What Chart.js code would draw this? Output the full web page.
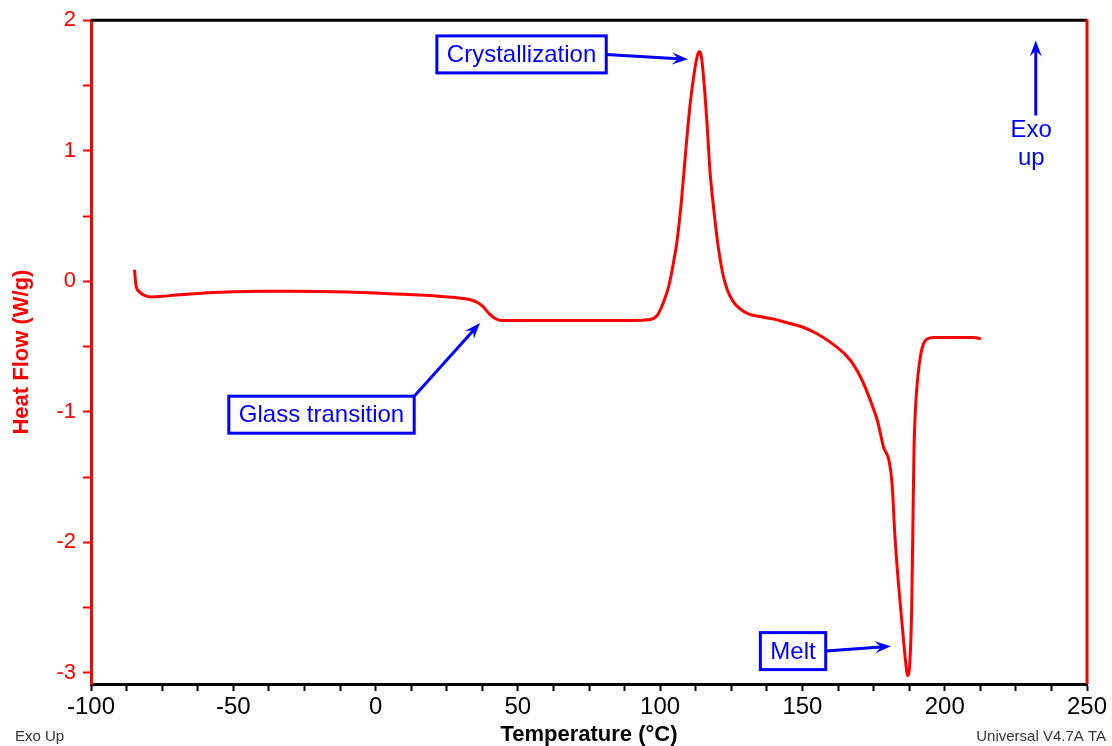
<!DOCTYPE html>
<html>
<head>
<meta charset="utf-8">
<title>DSC Heat Flow</title>
<script src="https://cdn.jsdelivr.net/npm/chart.js@4/dist/chart.umd.min.js"></script>
<style>
    html, body { margin: 0; padding: 0; background: #ffffff; }
    #wrap { width: 1112px; height: 746px; position: relative; }
</style>
</head>
<body>
<div id="wrap"><canvas id="dsc-chart"></canvas></div>
<script>
// DSC scan: temperature (°C) vs heat flow (W/g), exo up
const temperature = [
    -84.7, -84.5, -84.2, -83.0, -81.0, -78.5, -75, -70, -60, -50,
    -40, -30, -20, -10, 0, 10, 20, 28, 33, 36,
    38, 40, 42, 44, 50, 60, 70, 80, 90, 96,
    99, 101, 103, 104.5, 106, 107.5, 109, 110.5, 112, 113,
    113.7, 114.5, 115.5, 116.5, 117.5, 119, 120.5, 122, 123.5, 125.5,
    128, 131, 135, 140, 145, 150, 155, 160, 165, 168,
    171, 174, 176.5, 178.5, 180.5, 181.5, 182.5, 183.5, 185, 186.2,
    187, 187.8, 188.4, 188.8, 189.2, 189.8, 190.6, 191.5, 192.5, 194,
    196, 200, 205, 210, 212.7
];
const heatFlow = [
    0.09, 0.03, -0.03, -0.08, -0.11, -0.12, -0.115, -0.105, -0.09, -0.08,
    -0.077, -0.077, -0.078, -0.083, -0.09, -0.10, -0.11, -0.125, -0.14, -0.165,
    -0.20, -0.25, -0.285, -0.30, -0.30, -0.30, -0.30, -0.30, -0.30, -0.295,
    -0.26, -0.17, -0.04, 0.12, 0.32, 0.62, 1.0, 1.35, 1.6, 1.72,
    1.76, 1.72, 1.5, 1.2, 0.85, 0.52, 0.25, 0.06, -0.06, -0.15,
    -0.21, -0.25, -0.27, -0.29, -0.32, -0.35, -0.40, -0.47, -0.56, -0.64,
    -0.76, -0.92, -1.08, -1.27, -1.38, -1.55, -1.95, -2.25, -2.62, -2.9,
    -3.02, -2.9, -2.5, -1.9, -1.3, -0.95, -0.72, -0.57, -0.48, -0.44,
    -0.43, -0.43, -0.43, -0.43, -0.44
];

const xMin = -100, xMax = 250, xStep = 12.5, xLabelStep = 50;
const yMin = -3.085, yMax = 2;
const yTickValues = [-3, -2.5, -2, -1.5, -1, -0.5, 0, 0.5, 1, 1.5, 2];

// callouts: box centre and arrow tip in data units
const callouts = [
    { text: 'Crystallization', box: [51.3, 1.738], from: 'right', tip: [109.8, 1.70] },
    { text: 'Glass transition', box: [-19.0, -1.022], from: 'topright', tip: [36.7, -0.32] },
    { text: 'Melt', box: [146.7, -2.833], from: 'right', tip: [181.1, -2.795] },
];
const exoArrow = { base: [232.0, 1.27], tip: [232.0, 1.845], lines: ['Exo', 'up'], textX: 230.4, textY: [1.157, 0.943] };

const FONT = 'Arial, "Liberation Sans", sans-serif';
const BLUE = '#0000ff';
const RED = '#ff0000';

function arrow(ctx, x1, y1, x2, y2) {
    const ang = Math.atan2(y2 - y1, x2 - x1);
    const len = 16, half = 6, notch = 10;
    const c = Math.cos(ang), s = Math.sin(ang);
    ctx.beginPath();
    ctx.moveTo(x1, y1);
    ctx.lineTo(x2 - c * notch, y2 - s * notch);
    ctx.stroke();
    ctx.beginPath();
    ctx.moveTo(x2, y2);
    ctx.lineTo(x2 - c * len - s * half, y2 - s * len + c * half);
    ctx.lineTo(x2 - c * notch, y2 - s * notch);
    ctx.lineTo(x2 - c * len + s * half, y2 - s * len - c * half);
    ctx.closePath();
    ctx.fill();
}

const frameAndNotes = {
    id: 'frameAndNotes',
    afterDraw(chart) {
        const { ctx, chartArea: a, scales: { x, y } } = chart;
        ctx.save();

        // top and right frame
        ctx.lineWidth = 3;
        ctx.strokeStyle = '#000000';
        ctx.beginPath();
        ctx.moveTo(a.left, a.top);
        ctx.lineTo(a.right, a.top);
        ctx.stroke();
        ctx.strokeStyle = RED;
        ctx.beginPath();
        ctx.moveTo(a.right, a.top - 1);
        ctx.lineTo(a.right, a.bottom);
        ctx.stroke();

        // boxed callouts with arrows
        ctx.font = '24px ' + FONT;
        ctx.textAlign = 'center';
        ctx.textBaseline = 'middle';
        callouts.forEach(c => {
            const cx = x.getPixelForValue(c.box[0]);
            const cy = y.getPixelForValue(c.box[1]);
            const w = ctx.measureText(c.text).width + 20;
            const h = 37;
            ctx.fillStyle = '#ffffff';
            ctx.fillRect(cx - w / 2, cy - h / 2, w, h);
            ctx.strokeStyle = BLUE;
            ctx.lineWidth = 3;
            ctx.strokeRect(cx - w / 2, cy - h / 2, w, h);
            ctx.fillStyle = BLUE;
            ctx.fillText(c.text, cx, cy + 1);
            const sx = cx + w / 2;
            const sy = c.from === 'topright' ? cy - h / 2 : cy;
            arrow(ctx, sx, sy, x.getPixelForValue(c.tip[0]), y.getPixelForValue(c.tip[1]));
        });

        // exo up marker
        const ex = x.getPixelForValue(exoArrow.base[0]);
        arrow(ctx, ex, y.getPixelForValue(exoArrow.base[1]), ex, y.getPixelForValue(exoArrow.tip[1]));
        exoArrow.lines.forEach((t, i) => {
            ctx.fillText(t, x.getPixelForValue(exoArrow.textX), y.getPixelForValue(exoArrow.textY[i]));
        });

        // footer notes
        ctx.font = '15px ' + FONT;
        ctx.fillStyle = '#333333';
        ctx.textBaseline = 'alphabetic';
        ctx.textAlign = 'left';
        ctx.fillText('Exo Up', 15, 741);
        ctx.textAlign = 'right';
        ctx.fillText('Universal V4.7A TA', 1106, 741);
        ctx.restore();
    }
};

new Chart(document.getElementById('dsc-chart'), {
    type: 'line',
    data: {
        datasets: [{
            data: temperature.map((t, i) => ({ x: t, y: heatFlow[i] })),
            borderColor: RED,
            borderWidth: 3,
            pointRadius: 0,
            cubicInterpolationMode: 'monotone',
            fill: false,
        }]
    },
    options: {
        responsive: true,
        maintainAspectRatio: false,
        animation: false,
        layout: { padding: { top: 20, right: 25, left: 0, bottom: 0 } },
        plugins: {
            legend: { display: false },
            tooltip: { enabled: false },
        },
        scales: {
            x: {
                type: 'linear',
                min: xMin,
                max: xMax,
                afterFit: (scale) => { scale.height = 62; },
                afterBuildTicks: (scale) => {
                    const ticks = [];
                    for (let v = xMin; v <= xMax + 1e-9; v += xStep) ticks.push({ value: v });
                    scale.ticks = ticks;
                },
                border: { display: true, color: '#000000', width: 3 },
                grid: { drawOnChartArea: false, drawTicks: true, tickLength: 7, tickWidth: 2, tickColor: '#000000' },
                ticks: {
                    color: '#000000',
                    font: { family: FONT, size: 24 },
                    padding: 2,
                    maxRotation: 0,
                    autoSkip: false,
                    callback: (v) => (v % xLabelStep === 0 ? String(v) : ''),
                },
                title: {
                    display: true,
                    text: 'Temperature (°C)',
                    color: '#000000',
                    font: { family: FONT, size: 22, weight: 'bold', lineHeight: 1 },
                    padding: { top: 0, bottom: 0 },
                },
            },
            y: {
                type: 'linear',
                min: yMin,
                max: yMax,
                afterFit: (scale) => { scale.width = 91; },
                afterBuildTicks: (scale) => {
                    scale.ticks = yTickValues.map(v => ({ value: v }));
                },
                border: { display: true, color: RED, width: 3 },
                grid: { drawOnChartArea: false, drawTicks: true, tickLength: 8, tickWidth: 2, tickColor: RED },
                ticks: {
                    color: RED,
                    font: { family: FONT, size: 22 },
                    padding: 7,
                    autoSkip: false,
                    callback: (v) => (Number.isInteger(v) ? String(v) : ''),
                },
                title: {
                    display: true,
                    text: 'Heat Flow (W/g)',
                    color: RED,
                    font: { family: FONT, size: 22, weight: 'bold', lineHeight: 1.2 },
                    padding: { top: 9, bottom: 0 },
                },
            }
        }
    },
    plugins: [frameAndNotes]
});
</script>
</body>
</html>
